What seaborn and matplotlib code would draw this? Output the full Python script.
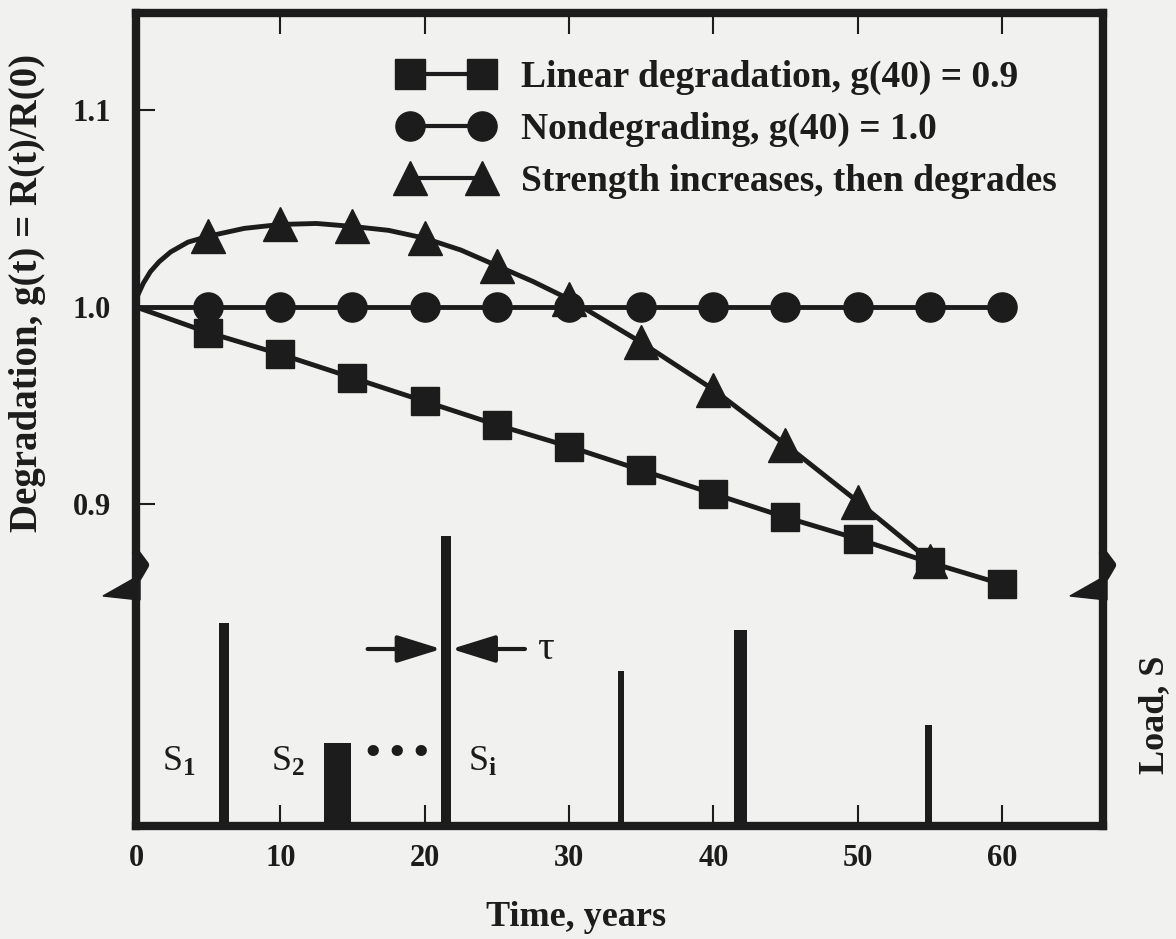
import matplotlib
matplotlib.use("Agg")
import matplotlib.pyplot as plt
import matplotlib.transforms as mtransforms
from matplotlib.lines import Line2D
from matplotlib.patches import Polygon
import seaborn as sns

# --- data ---
years = [0, 5, 10, 15, 20, 25, 30, 35, 40, 45, 50, 55, 60]
linear_g = [1.000, 0.987, 0.976, 0.964, 0.952, 0.940, 0.929, 0.917, 0.905, 0.893, 0.882, 0.870, 0.859]
nondeg_g = [1.000, 1.000, 1.000, 1.000, 1.000, 1.000, 1.000, 1.000, 1.000, 1.000, 1.000, 1.000, 1.000]

# strength increases then degrades (smooth curve, markers every 5 years)
hump_years = [0, 0.5, 1.0, 1.6, 2.4, 3.6, 5, 7.5, 10, 12.5, 15, 17.5, 20, 22.5, 25, 27.5, 30,
              35, 40, 45, 50, 55]
hump_g = [1.004, 1.012, 1.018, 1.023, 1.028, 1.033, 1.036, 1.040, 1.042, 1.0425, 1.041, 1.039,
          1.035, 1.029, 1.021, 1.013, 1.004, 0.982, 0.958, 0.930, 0.901, 0.871]

# load pulses (time, height, duration)
load_time = [6.1, 13.95, 21.5, 33.6, 41.9, 54.9]
load_height = [2.03, 0.83, 2.90, 1.55, 1.96, 1.01]
load_width = [0.7, 1.9, 0.7, 0.45, 0.9, 0.45]

legend_labels = ["Linear degradation, g(40) = 0.9",
                 "Nondegrading, g(40) = 1.0",
                 "Strength increases, then degrades"]
x_ticks = [0, 10, 20, 30, 40, 50, 60]
y_ticks = [0.9, 1.0, 1.1]

INK = "#1c1c1c"
PAPER = "#f1f1ef"

sns.set_theme(style="white")
plt.rcParams["font.family"] = ["Liberation Serif", "DejaVu Serif"]
plt.rcParams["font.weight"] = "bold"
plt.rcParams["mathtext.fontset"] = "custom"
plt.rcParams["mathtext.rm"] = "Liberation Serif"
plt.rcParams["mathtext.it"] = "Liberation Serif:italic"

W, H = 1176, 939
fig = plt.figure(figsize=(W / 100, H / 100), dpi=100, facecolor=PAPER)
ax = fig.add_axes([136 / W, 1 - 826 / H, (1103 - 136) / W, (826 - 13) / H])
ax.set_facecolor(PAPER)

line_kw = dict(color=INK, linewidth=3.5, markeredgecolor=INK, markeredgewidth=1,
               estimator=None, sort=False, legend=False, ax=ax)
marks = [i for i, t in enumerate(years) if t > 0]
sns.lineplot(x=years, y=linear_g, marker="s", markersize=20, markevery=marks, **line_kw)
sns.lineplot(x=years, y=nondeg_g, marker="o", markersize=21, markevery=marks, **line_kw)
hump_marks = [i for i, t in enumerate(hump_years) if t > 0 and t % 5 == 0]
sns.lineplot(x=hump_years, y=hump_g, marker="^", markersize=24, markevery=hump_marks, **line_kw)

ax.set_xlim(0, 67)
ax.set_ylim(0.7359, 1.1496)
ax.set_xticks(x_ticks)
ax.set_xticklabels([str(t) for t in x_ticks])
ax.set_yticks(y_ticks)
ax.set_yticklabels([f"{v:.1f}" for v in y_ticks])
ax.tick_params(axis="x", direction="in", top=True, bottom=True, length=15, width=1.5,
               color=INK, labelsize=22, pad=13, labelcolor=INK)
ax.tick_params(axis="y", direction="in", left=True, right=False, length=14, width=1.5,
               color=INK, labelsize=22, pad=18, labelcolor=INK)
for s in ax.spines.values():
    s.set_visible(True)
    s.set_linewidth(6)
    s.set_color(INK)

ax.set_xlabel("Time, years", fontsize=26, fontweight="bold", color=INK)
ax.xaxis.set_label_coords((576 - 136) / 967, -0.092)
ax.set_ylabel("Degradation, g(t) = R(t)/R(0)", fontsize=28, fontweight="bold", color=INK)
ax.yaxis.set_label_coords((46 - 136) / 967, 0.656)

handles = [Line2D([], [], color=INK, linewidth=3, marker=m, markersize=ms,
                  markeredgecolor=INK) for m, ms in [("s", 21), ("o", 21), ("^", 24)]]
ax.legend(handles, legend_labels, numpoints=2, loc="upper left",
          bbox_to_anchor=(399 / W, 1 - 60 / H), bbox_transform=fig.transFigure,
          frameon=False, borderpad=0, borderaxespad=0, handlelength=2.52, handletextpad=0.74,
          labelspacing=0.45, prop=dict(size=27, weight="bold"), labelcolor=INK)

# load axis
ax2 = ax.twinx()
ax2.bar(load_time, load_height, width=load_width, color=INK, align="center", linewidth=0)
ax2.set_ylim(0, 8.13)
ax2.set_yticks([])
for s in ax2.spines.values():
    s.set_visible(False)
ax2.set_ylabel("Load, S", fontsize=26, fontweight="bold", color=INK)
ax2.yaxis.set_label_coords((1138 - 136) / 967, 0.1365)

# labels on the pulses
lab_kw = dict(fontsize=26, fontweight="normal", color=INK, ha="center", va="center")
ax2.text(2.98, 0.64, "S$_1$", **lab_kw)
ax2.text(10.5, 0.64, "S$_2$", **lab_kw)
ax2.text(24.0, 0.64, r"S$_\mathrm{i}$", **lab_kw)
for dx in (-17.5, 0, 17.5):
    ax2.annotate("•", xy=(18.07, 0.71), xytext=(dx, 0), textcoords="offset points",
                 fontsize=34, fontweight="normal", color=INK, ha="center", va="center")

# duration arrows around the tall pulse
t_mid, t_w = load_time[2], load_width[2]
arrow_y = 1.77
arr = dict(arrowstyle="-|>,head_length=1.35,head_width=0.42", mutation_scale=20,
           lw=3, color=INK, shrinkA=0, shrinkB=0)
ax2.annotate("", xy=(t_mid - t_w / 2, arrow_y), xytext=(t_mid - t_w / 2 - 5.1, arrow_y), arrowprops=arr)
ax2.annotate("", xy=(t_mid + t_w / 2, arrow_y), xytext=(t_mid + t_w / 2 + 5.1, arrow_y), arrowprops=arr)
ax2.text(28.4, arrow_y, "τ", fontsize=30, fontweight="normal", color=INK, ha="center", va="center")

# axis break marks on both vertical axes
y_brk = (826 - 575) / 813
for xa in (0.0, 1.0):
    trans = fig.dpi_scale_trans + mtransforms.ScaledTranslation(xa, y_brk, ax.transAxes)
    zig = Line2D([0.0, 0.09, 0.02], [0.22, 0.10, -0.02], color=INK, lw=6,
                 transform=trans, clip_on=False, solid_joinstyle="round")
    ax2.add_line(zig)
    flag = Polygon([(0.04, 0.0), (-0.33, -0.21), (0.04, -0.25)], closed=True,
                   color=INK, transform=trans, clip_on=False)
    ax2.add_patch(flag)

fig.savefig("out.png", dpi=100, facecolor=PAPER)
